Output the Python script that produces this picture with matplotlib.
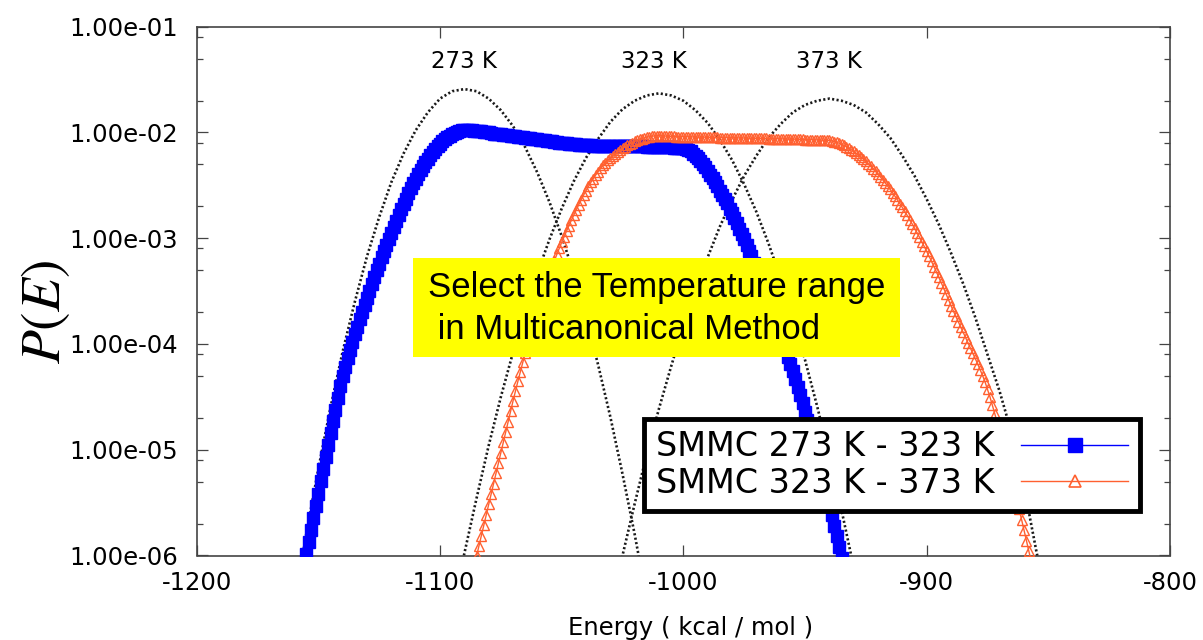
import numpy as np
import matplotlib.pyplot as plt
from matplotlib.ticker import LogLocator, NullFormatter
from matplotlib.patches import Rectangle
from matplotlib.lines import Line2D

plt.rcParams['font.family'] = ['DejaVu Sans']
plt.rcParams['mathtext.fontset'] = 'stix'

# energy bins (kcal/mol) and log10 P(E)
e_273_323 = np.arange(-1157, -933)
logp_273_323 = [
    -6.22, -6.105, -5.99, -5.875, -5.76, -5.645, -5.53, -5.415, -5.30, -5.185,
    -5.07, -4.955, -4.84, -4.73, -4.62, -4.51, -4.40, -4.30, -4.215, -4.135,
    -4.057, -3.981, -3.907, -3.835, -3.765, -3.696, -3.628, -3.561, -3.495, -3.430,
    -3.366, -3.303, -3.241, -3.180, -3.120, -3.061, -3.003, -2.946, -2.890, -2.835,
    -2.781, -2.728, -2.676, -2.625, -2.575, -2.527, -2.481, -2.437, -2.395, -2.355,
    -2.317, -2.281, -2.247, -2.215, -2.185, -2.157, -2.131, -2.107, -2.085, -2.065,
    -2.047, -2.031, -2.017, -2.005, -1.995, -1.987, -1.981, -1.980,
    -1.98, -1.98, -1.98, -1.985, -1.99, -1.99, -1.99, -1.995, -2.00, -2.00,
    -2.005, -2.01, -2.01, -2.01, -2.015, -2.02, -2.02, -2.025, -2.03, -2.03,
    -2.035, -2.04, -2.04, -2.045, -2.05, -2.05, -2.055, -2.06, -2.06, -2.065,
    -2.07, -2.07, -2.075, -2.08, -2.08, -2.085, -2.09, -2.09, -2.095, -2.10,
    -2.10, -2.10, -2.105, -2.11, -2.11, -2.11, -2.115, -2.12, -2.12, -2.12,
    -2.12, -2.12, -2.125, -2.125, -2.125, -2.125, -2.13, -2.13, -2.13, -2.13,
    -2.13, -2.13, -2.13, -2.13, -2.13, -2.13, -2.13, -2.13, -2.13, -2.13,
    -2.13, -2.13, -2.13, -2.13, -2.135, -2.135, -2.135, -2.135, -2.14, -2.14,
    -2.14, -2.14, -2.14, -2.14, -2.14, -2.145, -2.145, -2.145, -2.15,
    -2.15, -2.16, -2.17, -2.18, -2.20, -2.22, -2.24, -2.27, -2.30, -2.33,
    -2.36, -2.40, -2.43, -2.47, -2.51, -2.55, -2.59, -2.63, -2.67, -2.72,
    -2.76, -2.81, -2.86, -2.91, -2.96, -3.01, -3.06, -3.12, -3.17, -3.23,
    -3.29, -3.35, -3.41, -3.47, -3.53, -3.59, -3.65, -3.72, -3.78, -3.85,
    -3.91, -3.98, -4.05, -4.12, -4.19, -4.26, -4.33, -4.41, -4.48, -4.56,
    -4.64, -4.72, -4.80, -4.89, -4.97, -5.06, -5.15, -5.24, -5.33, -5.42,
    -5.52, -5.62, -5.72, -5.82, -5.92, -6.02, -6.13,
]

e_323_373 = np.arange(-1086, -855)
logp_323_373 = [
    -6.105, -6.007, -5.909, -5.811, -5.713, -5.615, -5.517, -5.419, -5.321, -5.223,
    -5.125, -5.027, -4.929, -4.831, -4.733, -4.635, -4.539, -4.445, -4.353, -4.263,
    -4.175, -4.089, -4.005, -3.923, -3.843, -3.765, -3.689, -3.615, -3.543, -3.473,
    -3.405, -3.339, -3.275, -3.213, -3.153, -3.095, -3.039, -2.985, -2.932, -2.880,
    -2.829, -2.779, -2.730, -2.682, -2.636, -2.592, -2.550, -2.510, -2.472, -2.436,
    -2.402, -2.370, -2.340, -2.312, -2.286, -2.262, -2.240, -2.220, -2.201, -2.183,
    -2.166, -2.150, -2.135, -2.121, -2.108, -2.096, -2.085, -2.075, -2.066, -2.058,
    -2.051, -2.045, -2.040, -2.036, -2.033, -2.031, -2.030,
    -2.032, -2.034, -2.035, -2.036, -2.037, -2.038, -2.039, -2.040, -2.040, -2.040,
    -2.041, -2.041, -2.042, -2.042, -2.043, -2.043, -2.044, -2.044, -2.045, -2.045,
    -2.046, -2.046, -2.047, -2.047, -2.048, -2.048, -2.049, -2.049, -2.050, -2.050,
    -2.051, -2.051, -2.052, -2.052, -2.053, -2.053, -2.054, -2.054, -2.055, -2.055,
    -2.056, -2.056, -2.057, -2.057, -2.058, -2.058, -2.059, -2.059, -2.060, -2.060,
    -2.061, -2.061, -2.062, -2.062, -2.063, -2.063, -2.064, -2.065, -2.066, -2.067,
    -2.067, -2.068, -2.069, -2.070, -2.070, -2.071, -2.072, -2.073, -2.074,
    -2.075, -2.080, -2.086, -2.093, -2.101, -2.111, -2.122, -2.134, -2.148, -2.163,
    -2.179, -2.196, -2.214, -2.233, -2.253, -2.274, -2.296, -2.319, -2.343, -2.368,
    -2.394, -2.421, -2.449, -2.478, -2.508, -2.539, -2.571, -2.604, -2.638, -2.673,
    -2.709, -2.746, -2.784, -2.823, -2.863, -2.904, -2.946, -2.989, -3.033, -3.078,
    -3.124, -3.171, -3.219, -3.268, -3.318, -3.369, -3.421, -3.474, -3.528, -3.583,
    -3.639, -3.69, -3.74, -3.79, -3.84, -3.89, -3.94, -3.99, -4.04, -4.09,
    -4.14, -4.19, -4.245, -4.30, -4.36, -4.43, -4.50, -4.58, -4.66, -4.745,
    -4.83, -4.92, -5.01, -5.10, -5.19, -5.28, -5.375, -5.47, -5.565, -5.66,
    -5.76, -5.86, -5.96, -6.06, -6.16,
]

# canonical distributions at fixed temperature (dotted)
e_can_273 = np.arange(-1160, -1014, 5)
logp_can_273 = [-6.48, -5.80, -5.18, -4.60, -4.07, -3.60, -3.17, -2.80, -2.47, -2.20,
                -1.98, -1.81, -1.68, -1.61, -1.59, -1.61, -1.68, -1.79, -1.94, -2.14,
                -2.38, -2.66, -2.98, -3.34, -3.75, -4.20, -4.69, -5.23, -5.80, -6.42]
e_can_323 = np.arange(-1095, -924, 5)
logp_can_323 = [-6.54, -5.98, -5.46, -4.96, -4.50, -4.08, -3.69, -3.33, -3.01, -2.72,
                -2.46, -2.24, -2.06, -1.90, -1.78, -1.70, -1.65, -1.63, -1.65, -1.70,
                -1.79, -1.91, -2.07, -2.26, -2.49, -2.75, -3.05, -3.38, -3.75, -4.15,
                -4.59, -5.06, -5.57, -6.11, -6.69]
e_can_373 = np.arange(-1030, -849, 5)
logp_can_373 = [-6.52, -6.00, -5.51, -5.04, -4.61, -4.21, -3.83, -3.49, -3.18, -2.89,
                -2.64, -2.41, -2.22, -2.05, -1.92, -1.81, -1.74, -1.70, -1.68, -1.70,
                -1.74, -1.81, -1.92, -2.05, -2.22, -2.41, -2.63, -2.87, -3.14, -3.43,
                -3.75, -4.10, -4.45, -4.85, -5.35, -5.95, -6.50]

temp_labels = ["273 K", "323 K", "373 K"]
temp_label_e = [-1090, -1012, -940]

series_labels = ["SMMC 273 K - 323 K", "SMMC 323 K - 373 K"]
xticks = [-1200, -1100, -1000, -900, -800]
xtick_labels = ["-1200", "-1100", "-1000", "-900", "-800"]
yticks = [1e-6, 1e-5, 1e-4, 1e-3, 1e-2, 1e-1]
ytick_labels = ["1.00e-06", "1.00e-05", "1.00e-04", "1.00e-03", "1.00e-02", "1.00e-01"]

blue = '#0000FF'
orange = '#FF6030'
axcol = '#444444'

fig = plt.figure(figsize=(12.03, 6.40), dpi=100)
ax = fig.add_axes([196.7 / 1203, (640 - 555.5) / 640, 973.3 / 1203, 528.8 / 640])

for e, lp in [(e_can_273, logp_can_273), (e_can_323, logp_can_323), (e_can_373, logp_can_373)]:
    ax.plot(e, 10 ** np.array(lp), color='#1a1a1a', lw=1.9, dashes=(0.8, 0.9), zorder=2)

ax.plot(e_273_323, 10 ** np.array(logp_273_323), color=blue, lw=1, marker='s', ms=8.5,
        mfc=blue, mec=blue, zorder=3)
ax.plot(e_323_373, 10 ** np.array(logp_323_373), color=orange, lw=1, marker='^', ms=6.5,
        mfc='none', mec=orange, mew=1, zorder=4)

ax.set_yscale('log')
ax.set_xlim(-1200, -800)
ax.set_ylim(1e-6, 1e-1)
ax.set_xticks(xticks)
ax.set_xticklabels(xtick_labels)
ax.set_yticks(yticks)
ax.set_yticklabels(ytick_labels)
ax.yaxis.set_minor_locator(LogLocator(base=10, subs=(2, 5, 8)))
ax.yaxis.set_minor_formatter(NullFormatter())
ax.tick_params(which='both', direction='in', right=True, top=True, color=axcol, width=0.9)
ax.tick_params(which='major', length=7.7, labelsize=17.5)
ax.tick_params(which='minor', length=4.3)
ax.tick_params(axis='y', pad=13.5)
ax.tick_params(axis='x', pad=11.5)
for s in ax.spines.values():
    s.set_color(axcol)
    s.set_linewidth(1.2)

# temperature labels above the canonical peaks
for t, e in zip(temp_labels, temp_label_e):
    ax.text(e, 0.9333, t, transform=ax.get_xaxis_transform(), ha='center', va='center',
            fontsize=16.5)

# yellow note box
ax.add_patch(Rectangle((0.222, 0.3754), 0.5006, 0.1872, transform=ax.transAxes,
                       facecolor='#FFFF00', edgecolor='none', zorder=5))
ax.text(0.2376, 0.4894, "Select the Temperature range", transform=ax.transAxes,
        family='Liberation Sans', fontsize=25, va='baseline', ha='left', zorder=6)
ax.text(0.2376, 0.4089, " in Multicanonical Method", transform=ax.transAxes,
        family='Liberation Sans', fontsize=25, va='baseline', ha='left', zorder=6)

ax.text(-0.156, 0.46, "$P(E)$", transform=ax.transAxes, rotation=90, ha='center',
        va='center', fontsize=40)
ax.text(0.507, -0.1503, "Energy ( kcal / mol )", transform=ax.transAxes, ha='center',
        va='baseline', fontsize=17.5)

handles = [
    Line2D([], [], color=blue, lw=1, marker='s', ms=9.5, mfc=blue, mec=blue),
    Line2D([], [], color=orange, lw=1, marker='^', ms=9, mfc='none', mec=orange, mew=1.2),
]
leg = ax.legend(handles, series_labels, loc='center', bbox_to_anchor=(0.7144, 0.1711),
                markerfirst=False, fontsize=24, handlelength=3.2, handletextpad=0.8,
                labelspacing=0.1, borderpad=0.35, borderaxespad=0, fancybox=False,
                framealpha=1, edgecolor='black', numpoints=1)
leg.get_frame().set_linewidth(3.5)
leg.set_zorder(7)

fig.savefig('out.png', dpi=100)
